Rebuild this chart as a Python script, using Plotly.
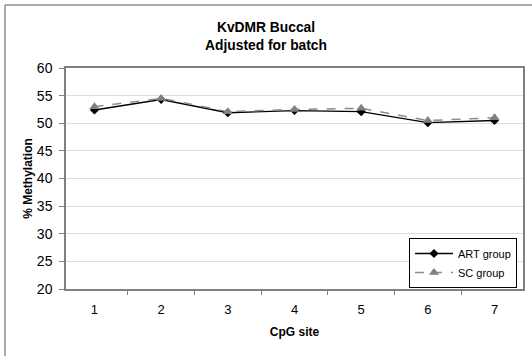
import plotly.graph_objects as go

cpg_sites = ["1", "2", "3", "4", "5", "6", "7"]
art_group = [52.4, 54.3, 51.9, 52.3, 52.1, 50.1, 50.5]
sc_group = [53.0, 54.5, 52.1, 52.5, 52.7, 50.5, 51.0]
y_ticks = [20, 25, 30, 35, 40, 45, 50, 55, 60]

W, H = 532, 356
L, R, T, B = 66, 9, 68, 67
pw, ph = W - L - R, H - T - B

def px(x):
    return (x - L) / pw

def py(y):
    return (H - B - y) / ph

fig = go.Figure()
fig.add_trace(go.Scatter(
    x=cpg_sites, y=art_group, name="ART group", mode="lines+markers",
    line=dict(color="#000000", width=1.3),
    marker=dict(symbol="diamond", size=7, color="#000000"),
))
fig.add_trace(go.Scatter(
    x=cpg_sites, y=sc_group, name="SC group", mode="lines+markers",
    line=dict(color="#8c8c8c", width=1.5, dash="dash"),
    marker=dict(symbol="triangle-up", size=9, color="#808080"),
))

font = "Liberation Sans, Arial, sans-serif"
fig.update_layout(
    width=W, height=H,
    margin=dict(l=L, r=R, t=T, b=B, autoexpand=False),
    paper_bgcolor="white", plot_bgcolor="white",
    font=dict(family=font, color="#000000", size=12),
    title=dict(
        text="<b>KvDMR Buccal<br>Adjusted for batch</b>",
        x=px(L + pw / 2), xanchor="center", y=1 - 32 / H, yanchor="middle",
        font=dict(size=13.8, family=font),
    ),
    showlegend=True,
    legend=dict(
        x=px(517), xanchor="right", y=py(238), yanchor="top",
        bgcolor="white", bordercolor="#000000", borderwidth=1,
        font=dict(size=11, family=font), tracegroupgap=0,
        itemwidth=38,
    ),
    xaxis=dict(
        type="category", showgrid=False, automargin=False,
        showline=True, linecolor="#808080", linewidth=1.5, mirror=True,
        ticks="outside", ticklen=4, tickcolor="#808080",
        tickson="boundaries", ticklabelstandoff=8,
        tickfont=dict(size=13, family=font),
        title=dict(text="<b>CpG site</b>", font=dict(size=12, family=font), standoff=11),
    ),
    yaxis=dict(
        range=[20, 60], tickvals=y_ticks, automargin=False,
        showgrid=True, gridcolor="#dcdcdc", gridwidth=1,
        showline=True, linecolor="#808080", linewidth=1.5, mirror=True,
        ticks="outside", ticklen=5, tickcolor="#808080", ticklabelstandoff=4,
        tickfont=dict(size=14, family=font), zeroline=False,
        title=dict(text="<b>% Methylation</b>", font=dict(size=12, family=font), standoff=2),
    ),
)

fig.add_shape(
    type="line", xref="paper", yref="paper",
    x0=px(5), x1=px(W + 5), y0=py(5), y1=py(5),
    line=dict(color="#8c8c8c", width=1.5),
)
fig.add_shape(
    type="line", xref="paper", yref="paper",
    x0=px(5), x1=px(5), y0=py(5), y1=py(H + 5),
    line=dict(color="#8c8c8c", width=1.5),
)

fig.write_html(
    "out.html",
    config={"displayModeBar": False},
    post_script="document.body.style.margin='0';",
)
